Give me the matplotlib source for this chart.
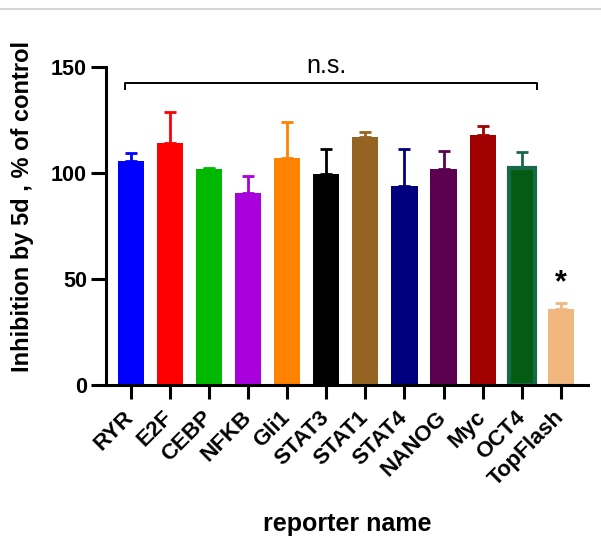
import matplotlib
matplotlib.use('Agg')
import matplotlib.pyplot as plt
from matplotlib.lines import Line2D
import numpy as np

plt.rcParams['font.family'] = ['Liberation Sans', 'DejaVu Sans']

# reporter names, mean and upper error (SD)
names = ['RYR', 'E2F', 'CEBP', 'NFKB', 'Gli1', 'STAT3', 'STAT1',
         'STAT4', 'NANOG', 'Myc', 'OCT4', 'TopFlash']
means = [105.7, 114.3, 101.6, 90.4, 107.0, 99.5, 117.1,
         94.0, 101.9, 117.9, 102.5, 35.6]
errs = [3.5, 14.5, 0.5, 8.2, 17.0, 11.7, 2.1,
        17.2, 8.6, 4.1, 7.5, 3.2]
colors = ['#0000ff', '#ff0000', '#00b800', '#a800dc', '#ff8200', '#000000',
          '#956423', '#00007f', '#5c0050', '#a00000', '#045c12', '#f0b77e']
edges = list(colors)
edges[10] = '#17694a'

fig = plt.figure(figsize=(6.01, 5.39), dpi=100)
ax = fig.add_axes([0.176, 0.286, 0.802, 0.590])

x = np.arange(len(names))
for i in range(len(names)):
    lw = 3 if i == 10 else 0
    ax.bar(x[i], means[i], width=0.67, color=colors[i],
           edgecolor=edges[i], linewidth=lw, zorder=2)
    # only the upper half of the error bar, GraphPad style
    ax.errorbar(x[i], means[i], yerr=[[0], [errs[i]]], fmt='none',
                ecolor=edges[i], elinewidth=2, capsize=4.5, capthick=2,
                zorder=1)

ax.set_xlim(-0.64, 11.69)
ax.set_ylim(0, 150)
ax.set_yticks([0, 50, 100, 150])
ax.set_xticks(x)
ax.set_xticklabels(names, rotation=45, ha='right', va='center',
                   rotation_mode='anchor', fontsize=16, fontweight='bold')
for lab in ax.get_yticklabels():
    lab.set_fontsize(15.5)
    lab.set_fontweight('bold')

for s in ['top', 'right']:
    ax.spines[s].set_visible(False)
for s in ['left', 'bottom']:
    ax.spines[s].set_linewidth(2.2)
ax.tick_params(axis='y', width=2.2, length=11, pad=2.5)
ax.tick_params(axis='x', width=2.2, length=10, pad=11)

ax.set_ylabel('Inhibition by 5d , % of control', fontsize=17,
              fontweight='bold')
ax.yaxis.set_label_coords(-0.148, 0.56)
ax.set_xlabel('reporter name', fontsize=18, fontweight='bold')
ax.xaxis.set_label_coords(0.5, -0.40)

# n.s. bracket over the first eleven reporters
by = 142.6
ax.plot([-0.15, -0.15, 10.38, 10.38], [139.5, by, by, 139.5],
        color='black', lw=1.4, clip_on=False)
ax.text(5, 150.5, 'n.s.', ha='center', va='center', fontsize=18,
        clip_on=False)
ax.text(11, 48, '*', ha='center', va='center', fontsize=22,
        fontweight='bold')

# thin grey rule along the top of the image
fig.add_artist(Line2D([0, 1], [0.984, 0.984], transform=fig.transFigure,
                      color='#d4d4d4', lw=1.5))

fig.savefig('out.png', dpi=100)
